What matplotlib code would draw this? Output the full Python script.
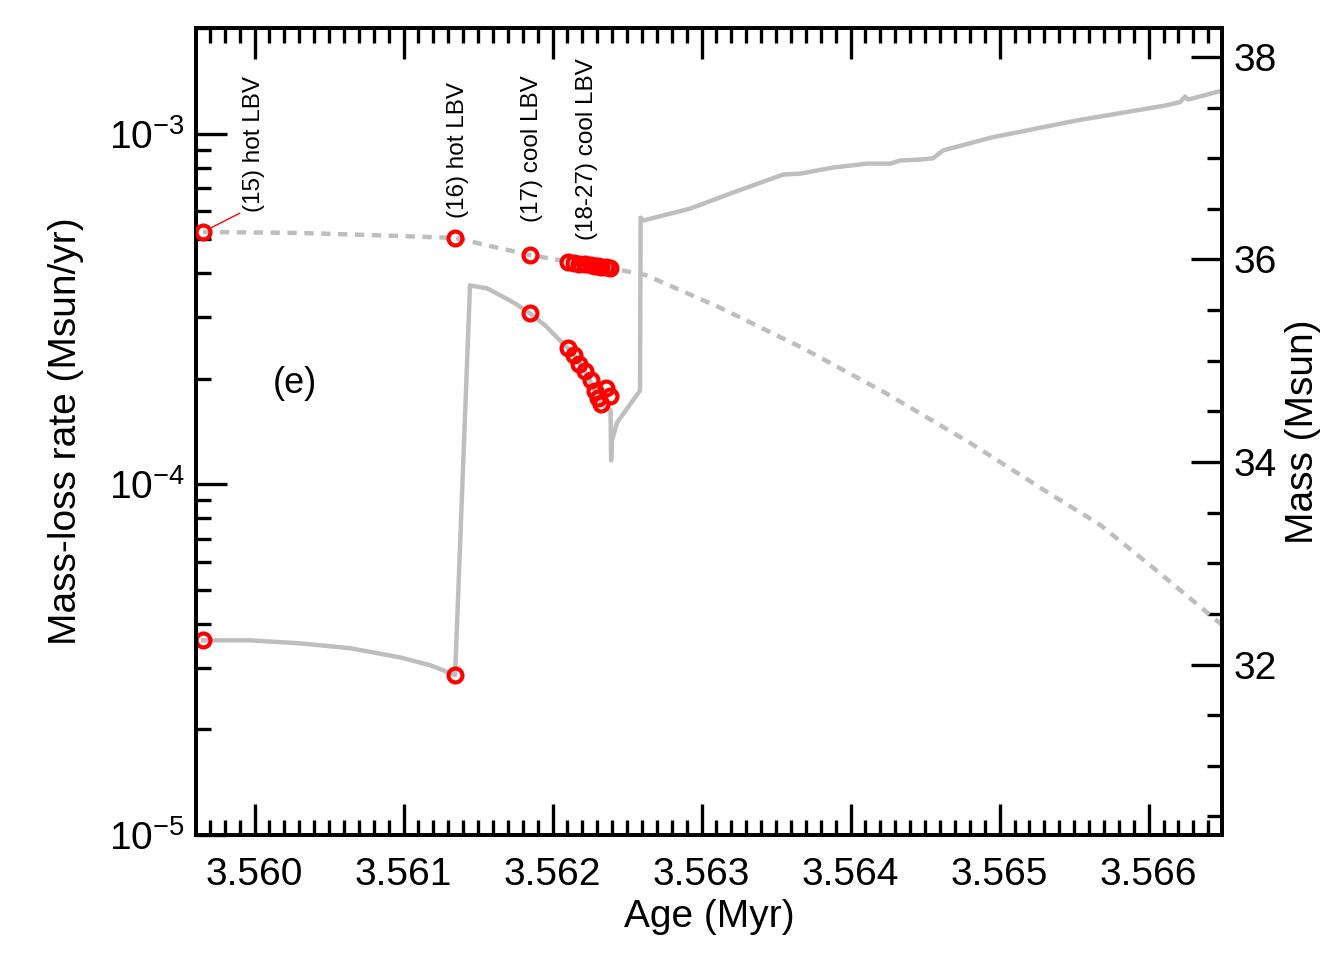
import matplotlib
matplotlib.use("Agg")
import matplotlib.pyplot as plt
from matplotlib.ticker import MultipleLocator, FormatStrFormatter, LogLocator, NullFormatter
from matplotlib.transforms import blended_transform_factory

plt.rcParams['font.family'] = ['Liberation Sans', 'DejaVu Sans']

# mass-loss rate (solid, left log axis)
rate_t = [3.559654, 3.559970, 3.560305, 3.560641, 3.560977, 3.561178, 3.561346,
          3.561446, 3.561560, 3.561648, 3.561748, 3.561849, 3.561950, 3.562030,
          3.562104, 3.562151, 3.562185, 3.562232, 3.562285, 3.562319, 3.562352,
          3.562389, 3.562393, 3.562399, 3.562433, 3.562587, 3.562591, 3.562607,
          3.562923, 3.563211, 3.563547, 3.563661, 3.563883, 3.564111, 3.564265,
          3.564332, 3.564466, 3.564553, 3.564620, 3.564943, 3.565513, 3.566111,
          3.566212, 3.566245, 3.566265, 3.566493]
rate_v = [3.59e-5, 3.59e-5, 3.52e-5, 3.41e-5, 3.21e-5, 3.05e-5, 2.86e-5,
          3.69e-4, 3.62e-4, 3.46e-4, 3.28e-4, 3.07e-4, 2.84e-4, 2.62e-4,
          2.44e-4, 2.32e-4, 2.20e-4, 2.04e-4, 1.85e-4, 1.71e-4, 1.66e-4,
          1.63e-4, 1.17e-4, 1.335e-4, 1.50e-4, 1.85e-4, 5.76e-4, 5.65e-4,
          6.11e-4, 6.79e-4, 7.64e-4, 7.69e-4, 8.00e-4, 8.21e-4, 8.21e-4,
          8.38e-4, 8.43e-4, 8.50e-4, 8.95e-4, 9.74e-4, 1.089e-3, 1.202e-3,
          1.23e-3, 1.275e-3, 1.25e-3, 1.326e-3]

# stellar mass (dashed, right axis)
mass_t = [3.559654, 3.560305, 3.560977, 3.561346, 3.561581, 3.561849, 3.562117,
          3.562386, 3.562624, 3.563114, 3.563678, 3.564235, 3.564792, 3.565329,
          3.565674, 3.566077, 3.566493]
mass_v = [36.272, 36.262, 36.232, 36.212, 36.133, 36.044, 35.975,
          35.916, 35.847, 35.531, 35.126, 34.681, 34.198, 33.694,
          33.38, 32.90, 32.39]

# LBV eruption events (15)-(27)
event_t = [3.559654, 3.561346, 3.561849, 3.562104, 3.562144, 3.562178, 3.562218,
           3.562258, 3.562285, 3.562305, 3.562326, 3.562359, 3.562386]
event_rate = [3.59e-5, 2.86e-5, 3.07e-4, 2.44e-4, 2.33e-4, 2.21e-4, 2.10e-4,
              1.98e-4, 1.85e-4, 1.76e-4, 1.69e-4, 1.88e-4, 1.79e-4]
event_mass = [36.272, 36.212, 36.044, 35.975, 35.967, 35.960, 35.952,
              35.944, 35.938, 35.934, 35.930, 35.923, 35.916]

label_text = ['(15) hot LBV', '(16) hot LBV', '(17) cool LBV', '(18-27) cool LBV']
label_t = [3.559997, 3.561366, 3.561862, 3.562232]
label_y = [0.772, 0.765, 0.760, 0.737]   # axes fraction, bottom of text

gray = '#bebebe'

fig = plt.figure(figsize=(13.34, 9.72), dpi=100)
ax = fig.add_axes([0.1469, 0.1409, 0.7692, 0.8303])
ax2 = ax.twinx()

ax.plot(rate_t, rate_v, color=gray, lw=3.2, zorder=2)
ax.plot(event_t, event_rate, 'o', mfc='none', mec='red', mew=3, ms=10, zorder=3)
ax.set_yscale('log')
ax.set_ylim(1e-5, 2e-3)
ax.set_xlim(3.559607, 3.566493)

ax2.plot(mass_t, mass_v, color=gray, lw=3.2, ls=(0, (2.1, 1.7)), zorder=2)
ax2.plot(event_t, event_mass, 'o', mfc='none', mec='red', mew=3, ms=10, zorder=3)
ax2.set_ylim(30.316, 38.286)

# small connector for label (15)
ax2.annotate('', xy=(event_t[0], event_mass[0]), xytext=(26.5, 13.5),
             textcoords='offset points',
             arrowprops=dict(arrowstyle='-', color='red', lw=1, shrinkA=0, shrinkB=7))

trans = blended_transform_factory(ax.transData, ax.transAxes)
for txt, t, y in zip(label_text, label_t, label_y):
    ax.text(t, y, txt, rotation=90, ha='center', va='bottom', fontsize=17.5,
            transform=trans)

ax.text(0.0965, 0.560, '(e)', transform=ax.transAxes, fontsize=26,
        ha='center', va='center')

# ticks
ax.xaxis.set_major_locator(MultipleLocator(0.001))
ax.xaxis.set_minor_locator(MultipleLocator(0.0001))
ax.xaxis.set_major_formatter(FormatStrFormatter('%.3f'))
ax.yaxis.set_major_locator(LogLocator(base=10))
ax.yaxis.set_minor_locator(LogLocator(base=10, subs=range(2, 10)))
ax.yaxis.set_minor_formatter(NullFormatter())
ax2.yaxis.set_major_locator(MultipleLocator(2))
ax2.yaxis.set_minor_locator(MultipleLocator(0.5))

ax.tick_params(axis='x', which='both', direction='in', top=True, bottom=True,
               labelsize=28, pad=16)
ax.tick_params(axis='y', which='both', direction='in', left=True, right=False,
               labelsize=28, pad=8)
ax2.tick_params(axis='y', which='both', direction='in', right=True, left=False,
                labelsize=28, pad=8)
for a in (ax, ax2):
    a.tick_params(which='major', length=22, width=2.4)
    a.tick_params(which='minor', length=11, width=2.4)
    for s in a.spines.values():
        s.set_linewidth(2.8)

ax.set_xlabel('Age (Myr)', fontsize=28, labelpad=4)
ax.set_ylabel('Mass-loss rate (Msun/yr)', fontsize=28, labelpad=18)
ax2.set_ylabel('Mass (Msun)', fontsize=28, labelpad=6)

fig.savefig('out.png', dpi=100)
